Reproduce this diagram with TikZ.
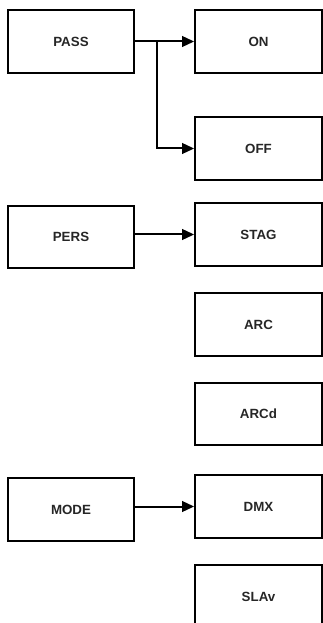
\documentclass[tikz,border=0pt]{standalone}
\usepackage{fontspec}
\setmainfont{Liberation Sans}
\usetikzlibrary{arrows.meta}
\begin{document}
\begin{tikzpicture}[x=0.75pt,y=-0.75pt,
  box/.style={draw=black, line width=1.6pt, minimum width=95pt, minimum height=47pt,
    inner sep=0pt, font=\fontsize{10}{11}\selectfont\bfseries, text=black!85},
  conn/.style={line width=1.5pt, -{Triangle[length=9pt,width=8pt]}}]
\useasboundingbox (0,0) rectangle (323,623);
\clip (0,0) rectangle (323,623);
\node[box] (pass) at (71,41.5) {PASS};
\node[box] (pers) at (71,237) {PERS};
\node[box] (mode) at (71,509.5) {MODE};
\node[box] (on) at (258.5,41.5) {ON};
\node[box] (off) at (258.5,148.5) {OFF};
\node[box] (stag) at (258.5,234.5) {STAG};
\node[box] (arc) at (258.5,324.5) {ARC};
\node[box] (arcd) at (258.5,414) {ARCd};
\node[box] (dmx) at (258.5,506.5) {DMX};
\node[box] (slav) at (258.5,596.5) {SLAv};
\coordinate (br) at (157,41.5);
\draw[conn] (pass.east) -- (on.west);
\draw[conn] (br) |- (off.west);
\draw[conn] (pers.east |- stag.west) -- (stag.west);
\draw[conn] (mode.east |- dmx.west) -- (dmx.west);
\end{tikzpicture}
\end{document}
